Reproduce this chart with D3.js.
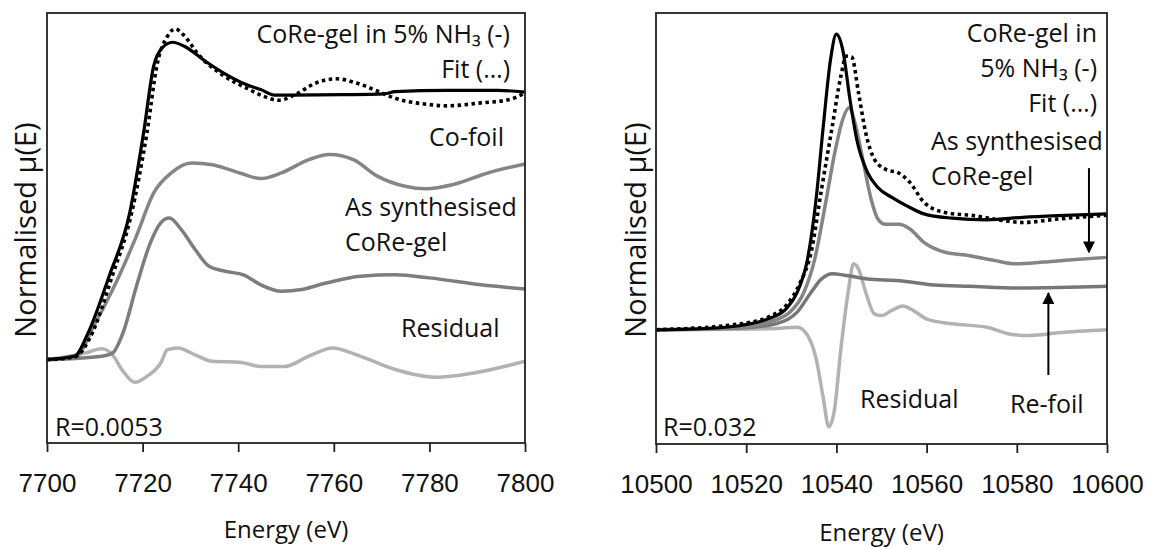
<!DOCTYPE html>
<html>
<head>
<meta charset="utf-8">
<script src="https://cdn.jsdelivr.net/npm/d3@7"></script>
<style>
  body { margin: 0; background: #fff; }
  svg { display: block; font-family: 'Open Sans', sans-serif; }
  .frame { fill: none; stroke: #222; stroke-width: 1.8; }
  .lbl { font-size: 25px; fill: #111; }
  .tick-label { font-size: 26px; fill: #111; }
  .axis-title { font-size: 24px; fill: #111; }
</style>
</head>
<body>
<svg id="chart" width="1153" height="549"></svg>
<script>
// ---- Co K-edge (left) : [energy eV, normalised mu, stacked] ----
var coEnergyTicks = [7700, 7720, 7740, 7760, 7780, 7800];
var coGelNH3 = [[7700,19.4],[7705.8,20.2],[7708.6,25.6],[7713,38.8],[7717.3,53.5],[7720.2,72.1],[7722.3,87.6],
  [7724.1,91.9],[7726.3,93.2],[7728.8,92.2],[7733.1,88.8],[7736.7,86.2],[7741.8,83.3],[7744.7,82.2],[7747.6,80.9],
  [7751.2,80.9],[7762,81.0],[7770.6,81.2],[7772.8,81.7],[7783.6,82.0],[7794.4,82.0],[7800,81.6]];
var coGelFit = [[7700,19.4],[7705.8,20.0],[7709,24.5],[7713.7,39],[7717.6,53],[7720.9,72.1],[7723.1,88.4],
  [7725.2,94.6],[7726.8,96.3],[7728.8,94.6],[7731.7,90.3],[7736.7,85.6],[7741.8,82.5],[7745.4,80.6],[7748.3,79.7],
  [7751.9,81.0],[7756.2,83.7],[7760.5,84.7],[7764.8,83.7],[7769.2,81.8],[7772.8,80.2],[7780,78.7],[7783.6,78.4],
  [7790.8,79.1],[7796.5,79.8],[7800,81.4]];
var coFoil = [[7700,19.4],[7705.8,19.8],[7710.1,27.9],[7714.4,37.2],[7718.7,48.1],[7722.3,58.1],[7726,62.8],
  [7730.3,65.1],[7734.6,64.7],[7740.3,62.8],[7744.7,61.5],[7749,62.8],[7754.8,65.9],[7759.1,67.1],[7764.1,65.9],
  [7769.2,62.0],[7774.9,59.7],[7779.3,59.1],[7785,60.1],[7792.2,62.8],[7800,64.9]];
var coGelSynth = [[7700,19.4],[7711.5,20.2],[7713.7,20.9],[7715.9,25.6],[7718.7,36.4],[7721.6,46.5],[7723.8,51.2],
  [7725.6,52.3],[7728.1,49.6],[7731,45.0],[7733.9,41.1],[7737.5,39.9],[7741.1,39.1],[7744.7,36.8],[7749,35.3],
  [7753.3,35.7],[7758.4,37.2],[7765.6,38.8],[7772.8,39.1],[7780,38.4],[7790.8,36.8],[7800,35.8]];
var coResidual = [[7700,19.4],[7707.9,20.9],[7711.5,21.9],[7713.7,20.5],[7715.9,16.7],[7718.4,14.1],[7720.9,15.5],
  [7723.8,18.6],[7725.2,21.7],[7727.4,22.1],[7731,20.5],[7734.6,19.0],[7740.3,18.8],[7744.7,17.8],[7749.7,17.8],
  [7754.8,20.2],[7759.8,22.1],[7764.8,20.5],[7772.8,17.1],[7781.4,15.3],[7789.3,16.3],[7800,19.0]];

// ---- Re L3-edge (right) ----
var reEnergyTicks = [10500, 10520, 10540, 10560, 10580, 10600];
var reGelNH3 = [[10500,26.5],[10510.9,26.8],[10518.8,27.5],[10525,29.1],[10528.9,31.4],[10531.3,35.2],[10533.6,42.9],
  [10535.5,56.8],[10537.1,73.8],[10538.7,89.2],[10540,95.1],[10541.4,91.5],[10543,80],[10544.5,70.7],[10546.9,63.0],
  [10549.2,59.5],[10552.3,57.2],[10555.5,55.3],[10559.4,53.4],[10565.6,52.4],[10573.4,52.0],[10581.3,52.6],
  [10589.1,53.0],[10600,53.4]];
var reGelFit = [[10500,26.5],[10518.8,27.9],[10525,29.5],[10528.9,32.2],[10532,37.5],[10534.4,44.5],[10536.7,59.1],
  [10539.1,73.8],[10541,85.4],[10542.2,90.0],[10543.4,89.8],[10544.9,81.5],[10546.5,72.2],[10548.4,66.1],
  [10550.8,63.8],[10553.9,62.8],[10556.3,60.7],[10559.4,56.1],[10564.1,53.7],[10570.3,53.0],[10577.3,51.8],
  [10581.3,51.4],[10589.1,52.2],[10600,53.1]];
var reGelSynth = [[10500,26.5],[10518.8,27.1],[10525,28.3],[10529.7,30.6],[10532.8,35.2],[10535.2,42.9],[10537.5,55.3],
  [10539.8,68.4],[10541.4,75.3],[10542.8,78.0],[10544.1,74.6],[10545.7,66.8],[10547.7,56.8],[10549.2,52.2],
  [10550.8,51.0],[10553.9,51.0],[10556.3,49.9],[10559.4,46.8],[10564.1,44.5],[10569.5,43.7],[10575,42.6],
  [10579.7,41.8],[10585.9,42.2],[10593,42.8],[10600,43.3]];
var reFoil = [[10500,26.5],[10518.8,26.9],[10526.6,27.9],[10531.3,30.6],[10534.4,35.2],[10536.7,38.3],[10539.1,39.5],
  [10542.2,39.1],[10546.9,38.3],[10553.9,37.9],[10561.7,36.9],[10569.5,36.6],[10581.3,36.2],[10589.1,36.3],[10600,36.6]];
var reResidual = [[10500,26.5],[10526.6,26.8],[10531.3,27.1],[10533.6,25.2],[10535.5,19.8],[10537.1,10.6],[10538.3,4.0],
  [10539.5,7.5],[10541,22.1],[10542.6,35.2],[10543.8,41.8],[10544.9,40.6],[10546.5,35.2],[10548.4,30.2],[10550,29.8],
  [10552.3,31.0],[10554.7,32.0],[10557,31.0],[10560.2,28.9],[10565.6,27.9],[10573.4,27.1],[10578.9,25.4],
  [10582.8,25.2],[10589.1,25.8],[10600,26.5]];
// arrows: [energy, from, to]
var reArrows = [[10596, 64, 44.5], [10587, 16, 35]];

var svg = d3.select('#chart');

// arrow head
svg.append('defs').append('marker')
  .attr('id', 'head')
  .attr('viewBox', '0 0 10 10')
  .attr('refX', 9).attr('refY', 5)
  .attr('markerWidth', 6).attr('markerHeight', 6)
  .attr('markerUnits', 'strokeWidth')
  .attr('orient', 'auto')
  .append('path').attr('d', 'M0,0 L10,5 L0,10 z').attr('fill', '#000');

function drawPanel(p) {
  var x = d3.scaleLinear().domain(p.domain).range([p.left, p.right]);
  var y = d3.scaleLinear().domain([0, 100]).range([p.bottom, p.top]);
  var line = d3.line()
    .x(function(d) { return x(d[0]); })
    .y(function(d) { return y(d[1]); })
    .curve(d3.curveMonotoneX);

  p.series.forEach(function(s) {
    svg.append('path')
      .attr('d', line(s.data))
      .attr('fill', 'none')
      .attr('stroke', s.color)
      .attr('stroke-width', s.width)
      .attr('stroke-dasharray', s.dash || null)
      .attr('stroke-linejoin', 'round');
  });

  // box
  svg.append('rect')
    .attr('class', 'frame')
    .attr('x', p.left).attr('y', p.top)
    .attr('width', p.right - p.left).attr('height', p.bottom - p.top);

  var xAxis = d3.axisBottom(x).tickValues(p.ticks).tickSize(9).tickPadding(13).tickFormat(d3.format('d'));
  var g = svg.append('g').attr('transform', 'translate(0,' + p.bottom + ')').call(xAxis);
  g.select('.domain').remove();
  g.selectAll('.tick line').attr('stroke', '#222').attr('stroke-width', 1.8);
  g.selectAll('.tick text').attr('class', 'tick-label').attr('font-size', null).attr('font-family', null)
    .attr('dy', null).attr('y', 49);

  svg.append('text')
    .attr('class', 'axis-title')
    .attr('text-anchor', 'middle')
    .attr('x', (p.left + p.right) / 2)
    .attr('y', p.titleY)
    .text('Energy (eV)');

  svg.append('text')
    .attr('class', 'axis-title')
    .attr('text-anchor', 'middle')
    .style('font-size', '29px')
    .attr('transform', 'translate(' + p.yTitleX + ',230) rotate(-90)')
    .text('Normalised \u03bc(E)');

  (p.arrows || []).forEach(function(a) {
    svg.append('line')
      .attr('x1', x(a[0])).attr('x2', x(a[0]))
      .attr('y1', y(a[1])).attr('y2', y(a[2]))
      .attr('stroke', '#000').attr('stroke-width', 2)
      .attr('marker-end', 'url(#head)');
  });

  p.labels.forEach(function(l) {
    svg.append('text')
      .attr('class', 'lbl')
      .attr('x', l.x).attr('y', l.y)
      .attr('text-anchor', l.anchor || 'start')
      .text(l.text);
  });
}

drawPanel({
  domain: [7700, 7800], left: 47, right: 525, top: 13, bottom: 443,
  ticks: coEnergyTicks, titleY: 538, yTitleX: 36,
  series: [
    { data: coResidual, color: '#b2b2b2', width: 3.5 },
    { data: coGelSynth, color: '#7d7d7d', width: 3.5 },
    { data: coFoil, color: '#858585', width: 3.5 },
    { data: coGelNH3, color: '#000', width: 3.2 },
    { data: coGelFit, color: '#000', width: 3.6, dash: '3.5,3.5' }
  ],
  labels: [
    { text: 'CoRe-gel in 5% NH\u2083 (-)', x: 510, y: 43, anchor: 'end' },
    { text: 'Fit (\u2026)', x: 510, y: 78, anchor: 'end' },
    { text: 'Co-foil', x: 504, y: 146, anchor: 'end' },
    { text: 'As synthesised', x: 345, y: 216 },
    { text: 'CoRe-gel', x: 345, y: 251 },
    { text: 'Residual', x: 401, y: 337 },
    { text: 'R=0.0053', x: 55, y: 436 }
  ]
});

drawPanel({
  domain: [10500, 10600], left: 656, right: 1107, top: 13, bottom: 444,
  ticks: reEnergyTicks, titleY: 541, yTitleX: 646,
  arrows: reArrows,
  series: [
    { data: reResidual, color: '#b2b2b2', width: 3.5 },
    { data: reFoil, color: '#777777', width: 3.5 },
    { data: reGelSynth, color: '#858585', width: 3.5 },
    { data: reGelNH3, color: '#000', width: 3.2 },
    { data: reGelFit, color: '#000', width: 3.6, dash: '3.5,3.5' }
  ],
  labels: [
    { text: 'CoRe-gel in', x: 1097, y: 42, anchor: 'end' },
    { text: '5% NH\u2083 (-)', x: 1097, y: 77, anchor: 'end' },
    { text: 'Fit (\u2026)', x: 1097, y: 112, anchor: 'end' },
    { text: 'As synthesised', x: 931, y: 150 },
    { text: 'CoRe-gel', x: 931, y: 185 },
    { text: 'Residual', x: 860, y: 408 },
    { text: 'Re-foil', x: 1010, y: 413 },
    { text: 'R=0.032', x: 663, y: 436 }
  ]
});
</script>
</body>
</html>
